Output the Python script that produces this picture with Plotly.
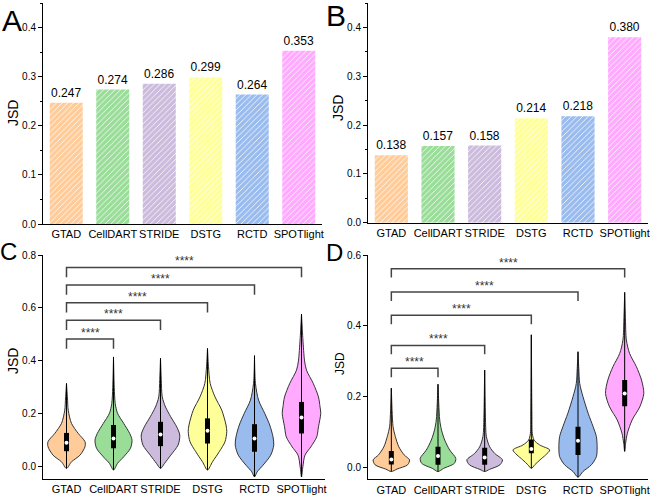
import plotly.graph_objects as go

# ---------------- data ----------------
methods = ["GTAD", "CellDART", "STRIDE", "DSTG", "RCTD", "SPOTlight"]
jsd_a = [0.247, 0.274, 0.286, 0.299, 0.264, 0.353]
jsd_b = [0.138, 0.157, 0.158, 0.214, 0.218, 0.380]

# violin density profiles (value levels, relative half-width)
c_prof_y = [
    [-0.006, 0.019, 0.044, 0.076, 0.095, 0.126, 0.164, 0.214, 0.26, 0.315],
    [-0.012, 0.013, 0.038, 0.070, 0.101, 0.126, 0.164, 0.202, 0.239, 0.30, 0.415],
    [-0.006, 0.013, 0.044, 0.082, 0.120, 0.151, 0.189, 0.226, 0.264, 0.33, 0.41],
    [-0.012, 0.019, 0.057, 0.095, 0.133, 0.158, 0.214, 0.264, 0.315, 0.38, 0.447],
    [-0.038, -0.019, 0.006, 0.044, 0.082, 0.113, 0.158, 0.202, 0.252, 0.315, 0.42],
    [-0.038, 0.0, 0.044, 0.076, 0.113, 0.151, 0.202, 0.227, 0.264, 0.315, 0.365, 0.40, 0.484, 0.577],
]
c_prof_w = [
    [0, .26, .70, .96, .96, .61, .26, .09, .05, 0],
    [0, .21, .53, .88, .96, .84, .53, .21, .09, .04, 0],
    [0, .21, .53, .91, 1.0, .84, .53, .26, .09, .04, 0],
    [0, .26, .61, .91, 1.0, .96, .74, .39, .14, .05, 0],
    [0, .14, .44, .84, 1.0, .96, .79, .53, .21, .05, 0],
    [0, .07, .18, .49, .79, .88, 1.0, .96, .88, .61, .26, .16, .07, 0],
]
d_prof_y = [
    [-0.012, -0.005, 0.007, 0.021, 0.035, 0.058, 0.087, 0.115, 0.16, 0.224],
    [-0.012, -0.003, 0.011, 0.025, 0.049, 0.077, 0.106, 0.134, 0.18, 0.235],
    [-0.012, -0.006, 0.007, 0.021, 0.039, 0.058, 0.087, 0.14, 0.20, 0.275],
    [-0.003, 0.007, 0.021, 0.035, 0.049, 0.063, 0.077, 0.096, 0.15, 0.25, 0.375],
    [-0.028, -0.012, 0.007, 0.030, 0.058, 0.087, 0.115, 0.153, 0.200, 0.237, 0.28, 0.327],
    [0.045, 0.068, 0.096, 0.134, 0.171, 0.209, 0.247, 0.285, 0.322, 0.36, 0.42, 0.495],
]
d_prof_w = [
    [0, .30, .85, .95, .67, .39, .21, .09, .04, 0],
    [0, .30, .85, .93, .61, .35, .18, .09, .04, 0],
    [0, .25, .80, .93, .53, .26, .09, .04, .02, 0],
    [0, .18, .45, .75, .96, .44, .14, .05, .03, .015, 0],
    [0, .26, .70, .96, 1.0, .96, .79, .53, .26, .09, .04, 0],
    [0, .05, .14, .39, .79, 1.0, .88, .61, .26, .09, .04, 0],
]

c_q1 = [0.059, 0.070, 0.078, 0.088, 0.057, 0.126]
c_med = [0.091, 0.107, 0.122, 0.136, 0.107, 0.186]
c_q3 = [0.128, 0.158, 0.170, 0.183, 0.161, 0.245]
d_q1 = [0.008, 0.007, 0.007, 0.040, 0.035, 0.173]
d_med = [0.022, 0.032, 0.028, 0.052, 0.075, 0.209]
d_q3 = [0.046, 0.058, 0.055, 0.079, 0.115, 0.247]

sig_labels = ["****", "****", "****", "****", "****"]  # GTAD vs each other method

# ---------------- style ----------------
colors = ["#FFCC99", "#99DD99", "#CCBBDD", "#FFFF99", "#99BBEE", "#FFAAFF"]
FONT = "Arial, Liberation Sans, sans-serif"
W, H = 650, 502
VMAX = 0.41  # max violin half-width (category units)

c_levels = [0.483, 0.554, 0.620, 0.687, 0.753]
d_levels = [0.280, 0.345, 0.430, 0.496, 0.562]

fig = go.Figure()


def px_x(p):
    return p / W


def px_y(p):
    return 1 - p / H


# ---------- bar panels (one trace per bar so each gets its own hatch colours) ----------
for vals, xa, ya in [(jsd_a, "x", "y"), (jsd_b, "x2", "y2")]:
    for i, v in enumerate(vals):
        fig.add_trace(go.Bar(
            x=[i], y=[v], xaxis=xa, yaxis=ya, width=0.71,
            marker=dict(color=colors[i], line=dict(width=0),
                        pattern=dict(shape="/", fillmode="replace", bgcolor=colors[i],
                                     fgcolor="white", size=4, solidity=0.2)),
            text=[f"{v:.3f}"], textposition="outside",
            textfont=dict(size=12, color="black", family=FONT),
            cliponaxis=False, showlegend=False))

# ---------- violin panels ----------
def add_violins(prof_y, prof_w, q1, med, q3, xa, ya, levels, drop, star_shift):
    for i in range(len(methods)):
        ys = prof_y[i]
        ws = [w * VMAX for w in prof_w[i]]
        xs = [i + w for w in ws] + [i - w for w in ws[::-1]]
        yy = ys + ys[::-1]
        fig.add_trace(go.Scatter(x=xs, y=yy, xaxis=xa, yaxis=ya, mode="lines",
                                 fill="toself", fillcolor=colors[i],
                                 line=dict(color="#333333", width=1, shape="spline", smoothing=0.8),
                                 showlegend=False, hoverinfo="skip"))
        fig.add_trace(go.Scatter(x=[i, i], y=[min(ys), max(ys)], xaxis=xa, yaxis=ya,
                                 mode="lines", line=dict(color="black", width=1),
                                 showlegend=False, hoverinfo="skip"))
        fig.add_trace(go.Scatter(x=[i, i], y=[q1[i], q3[i]], xaxis=xa, yaxis=ya,
                                 mode="lines", line=dict(color="black", width=5),
                                 showlegend=False, hoverinfo="skip"))
        fig.add_trace(go.Scatter(x=[i], y=[med[i]], xaxis=xa, yaxis=ya, mode="markers",
                                 marker=dict(color="white", size=4),
                                 showlegend=False, hoverinfo="skip"))
    for j, h in enumerate(levels, start=1):
        fig.add_trace(go.Scatter(x=[0, 0, j, j], y=[h - drop, h, h, h - drop],
                                 xaxis=xa, yaxis=ya, mode="lines",
                                 line=dict(color="#444444", width=1.5),
                                 showlegend=False, hoverinfo="skip", cliponaxis=False))
        fig.add_annotation(x=j / 2, y=h, xref=xa, yref=ya, text=sig_labels[j - 1],
                           showarrow=False, yanchor="bottom", yshift=star_shift,
                           font=dict(size=12, color="#333333", family=FONT))


add_violins(c_prof_y, c_prof_w, c_q1, c_med, c_q3, "x3", "y3", c_levels, 0.037, -3)
add_violins(d_prof_y, d_prof_w, d_q1, d_med, d_q3, "x4", "y4", d_levels, 0.025, -3)

# ---------- axes ----------
xcommon = dict(tickmode="array", tickvals=list(range(len(methods))), ticktext=methods,
               range=[-0.5, 5.5], showline=True, linecolor="black", linewidth=1,
               ticks="", showgrid=False, zeroline=False, tickangle=0, automargin=False,
               tickfont=dict(size=11, color="black", family=FONT))
ycommon = dict(showline=True, linecolor="black", linewidth=1, ticks="outside",
               ticklen=4, tickcolor="black", showgrid=False, zeroline=False, automargin=False,
               tickfont=dict(size=10, color="black", family=FONT))

fig.update_layout(
    width=W, height=H, margin=dict(l=0, r=0, t=0, b=0, autoexpand=False),
    paper_bgcolor="white", plot_bgcolor="white", barmode="overlay",
    xaxis=dict(xcommon, domain=[px_x(43), px_x(322)], anchor="y"),
    yaxis=dict(ycommon, domain=[px_y(224), px_y(3.3)], anchor="x", range=[0, 0.45],
               dtick=0.1, tickformat=".1f",
               minor=dict(dtick=0.05, ticks="outside", ticklen=2, tickcolor="black")),
    xaxis2=dict(xcommon, domain=[px_x(368), px_x(648)], anchor="y2"),
    yaxis2=dict(ycommon, domain=[px_y(222.7), px_y(3)], anchor="x2", range=[0, 0.45],
                dtick=0.1, tickformat=".1f",
                minor=dict(dtick=0.05, ticks="outside", ticklen=2, tickcolor="black")),
    xaxis3=dict(xcommon, domain=[px_x(43), px_x(325)], anchor="y3"),
    yaxis3=dict(ycommon, domain=[px_y(479), px_y(255)], anchor="x3", range=[-0.046, 0.8],
                dtick=0.2, tickformat=".1f"),
    xaxis4=dict(xcommon, domain=[px_x(368), px_x(648)], anchor="y4"),
    yaxis4=dict(ycommon, domain=[px_y(479.3), px_y(255.3)], anchor="x4", range=[-0.034, 0.6],
                dtick=0.2, tickformat=".1f"),
)

# panel letters and axis titles
for txt, x, y, s in [("A", 12, 21, 30), ("B", 336, 16, 30), ("C", 8, 251, 24), ("D", 335, 252, 24)]:
    fig.add_annotation(text=txt, x=px_x(x), y=px_y(y), xref="paper", yref="paper",
                       showarrow=False, xanchor="center", yanchor="middle",
                       font=dict(size=s, color="black", family=FONT))
for x, y, s in [(13, 113, 14), (338, 108, 14), (13, 361, 14), (340, 364, 12)]:
    fig.add_annotation(text="JSD", x=px_x(x), y=px_y(y), xref="paper", yref="paper",
                       showarrow=False, textangle=-90, xanchor="center", yanchor="middle",
                       font=dict(size=s, color="black", family=FONT))

fig.write_html("out.html", config={"displayModeBar": False},
               post_script="document.body.style.margin='0';document.body.style.overflow='hidden';")
